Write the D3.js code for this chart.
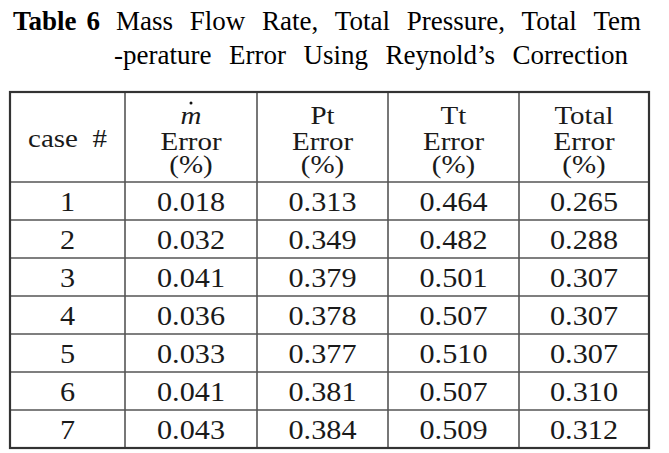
<!DOCTYPE html>
<html>
<head>
<meta charset="utf-8">
<script src="https://cdn.jsdelivr.net/npm/d3@7"></script>
<style>
  body { margin: 0; background: #fff; }
  svg { display: block; }
</style>
</head>
<body>
<svg id="chart"></svg>
<script>
const width = 669
const height = 453

// table data
const cases = ['1', '2', '3', '4', '5', '6', '7']
const massError = ['0.018', '0.032', '0.041', '0.036', '0.033', '0.041', '0.043']
const ptError = ['0.313', '0.349', '0.379', '0.378', '0.377', '0.381', '0.384']
const ttError = ['0.464', '0.482', '0.501', '0.507', '0.510', '0.507', '0.509']
const totalError = ['0.265', '0.288', '0.307', '0.307', '0.307', '0.310', '0.312']

const titleLine1 = ['Mass', 'Flow', 'Rate,', 'Total', 'Pressure,', 'Total', 'Tem']
const titleLine2 = ['-perature', 'Error', 'Using', 'Reynold\u2019s', 'Correction']
const headers = [['case  #'], ['m', 'Error', '(%)'], ['Pt', 'Error', '(%)'], ['Tt', 'Error', '(%)'], ['Total', 'Error', '(%)']]

const columns = [cases, massError, ptError, ttError, totalError]

let svg = d3.select('#chart')
  .attr('width', width)
  .attr('height', height)

// ---- title, justified word by word
let title = svg.append('g')
  .attr('font-family', 'Liberation Serif')
  .attr('font-size', 27)
  .attr('fill', '#000')

title.append('text')
  .attr('x', 13)
  .attr('y', 30)
  .attr('font-weight', 'bold')
  .text('Table')

title.append('text')
  .attr('x', 100)
  .attr('y', 30)
  .attr('font-weight', 'bold')
  .attr('text-anchor', 'end')
  .text('6')

let justify = (words, x0, x1, y) => {
  let texts = words.map(w => title.append('text')
    .attr('y', y)
    .text(w))
  let widths = texts.map(t => t.node().getComputedTextLength())
  let gap = (x1 - x0 - d3.sum(widths)) / (words.length - 1)
  let x = x0
  texts.forEach((t, i) => {
    t.attr('x', x)
    x += widths[i] + gap
  })
}

justify(titleLine1, 116, 641, 30)
justify(titleLine2, 114, 628, 64)

// ---- table grid
let colEdges = [0, 115, 247, 378, 509, 639]
let x = d3.scaleLinear().domain([0, 639]).range([10, 649])
let y = d3.scaleLinear().domain([0, cases.length]).range([182, 448])
let tableTop = 92

let grid = svg.append('g')

// vertical inner lines
grid.selectAll('line.v')
  .data(colEdges.slice(1, -1))
  .enter()
  .append('line')
  .attr('x1', d => x(d))
  .attr('x2', d => x(d))
  .attr('y1', tableTop)
  .attr('y2', y(cases.length))
  .attr('stroke', '#555')
  .attr('stroke-width', 1.6)

// horizontal inner lines
grid.selectAll('line.h')
  .data(d3.range(0, cases.length))
  .enter()
  .append('line')
  .attr('x1', x(0))
  .attr('x2', x(639))
  .attr('y1', d => y(d))
  .attr('y2', d => y(d))
  .attr('stroke', '#555')
  .attr('stroke-width', 1.6)

// outer border
grid.append('rect')
  .attr('x', x(0))
  .attr('y', tableTop)
  .attr('width', x(639) - x(0))
  .attr('height', y(cases.length) - tableTop)
  .attr('fill', 'none')
  .attr('stroke', '#333')
  .attr('stroke-width', 2.2)

let centers = colEdges.slice(0, -1).map((d, i) => (x(d) + x(colEdges[i + 1])) / 2)

// cell text: wide serif look, made by stretching Liberation Serif
let cellText = (g, cx, cy, s, sx) => g.append('text')
  .attr('transform', 'translate(' + cx + ',' + cy + ') scale(' + sx + ',1)')
  .text(s)

// ---- header (lines packed tight like the original)
let head = svg.append('g')
  .attr('font-family', 'Liberation Serif')
  .attr('font-size', 25)
  .attr('fill', '#1a1a1a')
  .attr('text-anchor', 'middle')

cellText(head, centers[0], 147, headers[0][0], 1.16)
  .style('white-space', 'pre')

let headBase = [124, 150, 173]
headers.slice(1).forEach((lines, i) => {
  lines.forEach((l, j) => {
    let t = cellText(head, centers[i + 1], headBase[j], l, 1.16)
    if (i === 0 && j === 0) t.attr('font-style', 'italic')
  })
})

// dot over m
head.append('circle')
  .attr('cx', centers[1])
  .attr('cy', 103)
  .attr('r', 1.5)
  .attr('fill', '#111')

// ---- body cells
let body = svg.append('g')
  .attr('font-family', 'Liberation Serif')
  .attr('font-size', 27)
  .attr('fill', '#1a1a1a')
  .attr('text-anchor', 'middle')

columns.forEach((col, c) => {
  col.forEach((d, i) => {
    cellText(body, centers[c], (y(i) + y(i + 1)) / 2 + 9.5, d, 1.12)
  })
})
</script>
</body>
</html>
